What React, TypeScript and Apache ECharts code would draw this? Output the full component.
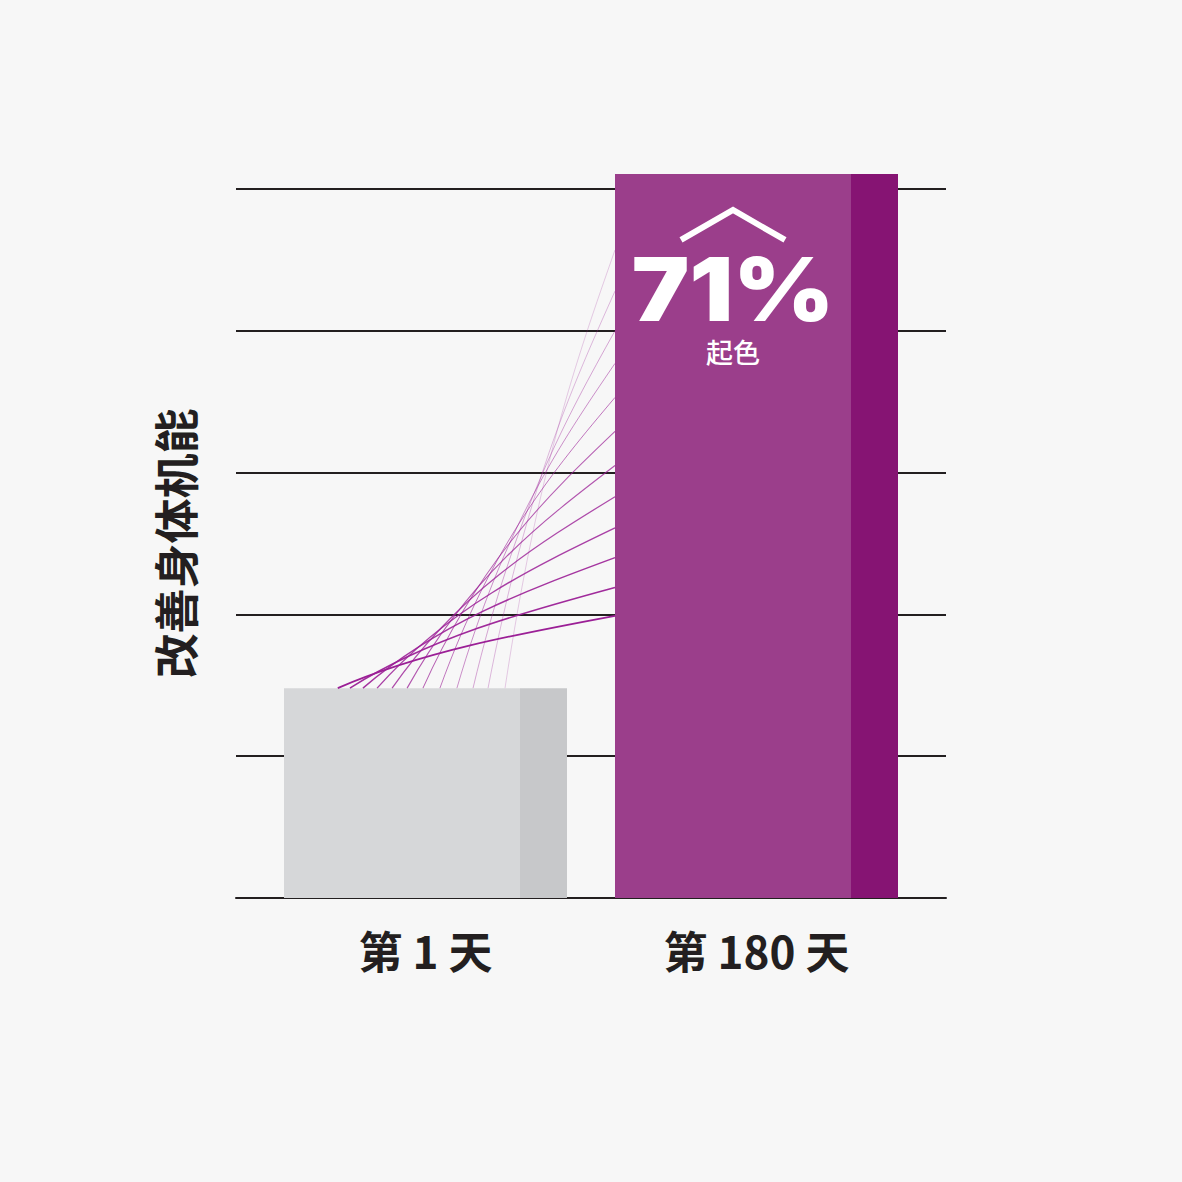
import React, { useEffect, useRef } from 'react';
import * as echarts from 'echarts';

const categories = ['第 1 天', '第 180 天'];
const barValues = [1.48, 5.106];
const yTicks = [0, 1, 2, 3, 4, 5];
// fan of curves: start position along day-1 bar top (fraction of bar width) and end height on day-180 bar
const curveStarts = [0.19, 0.233, 0.279, 0.329, 0.382, 0.435, 0.491, 0.551, 0.611, 0.668, 0.721, 0.781];
const curveEnds = [1.99, 2.19, 2.4, 2.61, 2.83, 3.05, 3.29, 3.53, 3.77, 4.0, 4.28, 4.57];
const improvementText = '71%';
const improvementLabel = '起色';
const yAxisTitle = '改善身体机能';

const BAR_RATIO = 0.855;
const SPLIT = 0.834;
const barColors = [
  { light: '#d6d7d9', dark: '#c7c8ca' },
  { light: '#9b3e8b', dark: '#861473' },
];
const TEXT = '#231f20';
const CJK = "'Noto Sans CJK SC', 'Noto Sans', sans-serif";

const App: React.FC = () => {
  const chartRef = useRef<HTMLDivElement>(null);

  useEffect(() => {
    if (!chartRef.current) return;
    document.body.style.margin = '0';
    const chart = echarts.init(chartRef.current, undefined, { renderer: 'svg' });

    const gridLine = { color: TEXT, width: 2 };

    const option: echarts.EChartsOption = {
      animation: false,
      backgroundColor: '#f7f7f7',
      grid: [
        { left: 236, right: 236, top: 189, bottom: 284 },
        { left: 260, right: 260, top: 189, bottom: 284 },
      ],
      xAxis: [
        {
          type: 'category',
          gridIndex: 0,
          data: categories,
          axisLine: { show: true, lineStyle: gridLine },
          axisTick: { show: false },
          axisLabel: { show: false },
        },
        {
          type: 'category',
          gridIndex: 1,
          data: categories,
          axisLine: { show: false },
          axisTick: { show: false },
          axisLabel: {
            margin: 30,
            fontSize: 44,
            fontWeight: 'bold',
            fontFamily: CJK,
            color: TEXT,
          },
        },
      ],
      yAxis: [
        {
          type: 'value',
          gridIndex: 0,
          min: yTicks[0],
          max: yTicks[yTicks.length - 1],
          interval: 1,
          name: yAxisTitle,
          nameLocation: 'middle',
          nameRotate: 90,
          nameGap: 39,
          nameTextStyle: { fontSize: 45, fontWeight: 'bold', fontFamily: CJK, color: TEXT },
          axisLine: { show: false },
          axisTick: { show: false },
          axisLabel: { show: false },
          splitLine: { show: true, lineStyle: gridLine },
        },
        {
          type: 'value',
          gridIndex: 1,
          min: yTicks[0],
          max: yTicks[yTicks.length - 1],
          interval: 1,
          show: false,
        },
      ],
      series: [
        {
          type: 'bar',
          xAxisIndex: 1,
          yAxisIndex: 1,
          barWidth: `${BAR_RATIO * 100}%`,
          clip: false,
          data: barValues.map((v, i) => ({
            value: v,
            itemStyle: {
              color: {
                type: 'linear',
                x: 0,
                y: 0,
                x2: 1,
                y2: 0,
                colorStops: [
                  { offset: 0, color: barColors[i].light },
                  { offset: SPLIT, color: barColors[i].light },
                  { offset: SPLIT, color: barColors[i].dark },
                  { offset: 1, color: barColors[i].dark },
                ],
              },
            },
          })),
        },
        {
          type: 'custom',
          xAxisIndex: 1,
          yAxisIndex: 1,
          z: 3,
          data: curveEnds.map((e) => [0, e]),
          renderItem: (params: any, api: any) => {
            const i = params.dataIndex;
            const bw = api.size([1, 0])[0] * BAR_RATIO;
            const p0 = api.coord([0, barValues[0]]);
            const p1 = api.coord([1, curveEnds[i]]);
            const x0 = p0[0] - bw / 2 + curveStarts[i] * bw;
            const y0 = p0[1];
            const x1 = p1[0] - bw / 2;
            const y1 = p1[1];
            const dx = x1 - x0;
            const dy = y0 - y1;
            return {
              type: 'bezierCurve',
              shape: {
                x1: x0,
                y1: y0,
                cpx1: x0 + 0.3 * dx,
                cpy1: y0 - 0.5 * dy,
                cpx2: x1 - 0.35 * dx,
                cpy2: y1 + 0.25 * dy,
                x2: x1,
                y2: y1,
              },
              style: {
                fill: 'none',
                stroke: '#9b1f96',
                lineWidth: 1.7 - i * 0.11,
                opacity: 1 - i * 0.05,
              },
            };
          },
        },
        {
          type: 'custom',
          xAxisIndex: 1,
          yAxisIndex: 1,
          z: 4,
          data: [[1, barValues[1]]],
          renderItem: (params: any, api: any) => {
            const bw = api.size([1, 0])[0] * BAR_RATIO;
            const top = api.coord([1, barValues[1]]);
            const cx = top[0] - bw / 2 + (bw * SPLIT) / 2;
            const ty = top[1];
            return {
              type: 'group',
              children: [
                {
                  type: 'polyline',
                  shape: {
                    points: [
                      [cx - 52, ty + 66],
                      [cx, ty + 36],
                      [cx + 52, ty + 66],
                    ],
                  },
                  style: { stroke: '#ffffff', lineWidth: 6, fill: 'none' },
                },
                {
                  type: 'text',
                  x: cx,
                  y: ty + 115,
                  scaleX: 1.1,
                  style: {
                    text: improvementText,
                    fill: '#ffffff',
                    fontSize: 88,
                    lineHeight: 70,
                    fontWeight: 900,
                    fontFamily: "Inter, 'Liberation Sans', Arial, sans-serif",
                    align: 'center',
                    verticalAlign: 'middle',
                  },
                },
                {
                  type: 'text',
                  x: cx,
                  y: ty + 178,
                  style: {
                    text: improvementLabel,
                    fill: '#ffffff',
                    fontSize: 27,
                    fontWeight: 500,
                    fontFamily: CJK,
                    align: 'center',
                    verticalAlign: 'middle',
                  },
                },
              ],
            };
          },
        },
      ],
    };

    chart.setOption(option);

    return () => {
      chart.dispose();
    };
  }, []);

  return <div ref={chartRef} style={{ width: '1182px', height: '1182px' }} />;
};

export default App;
